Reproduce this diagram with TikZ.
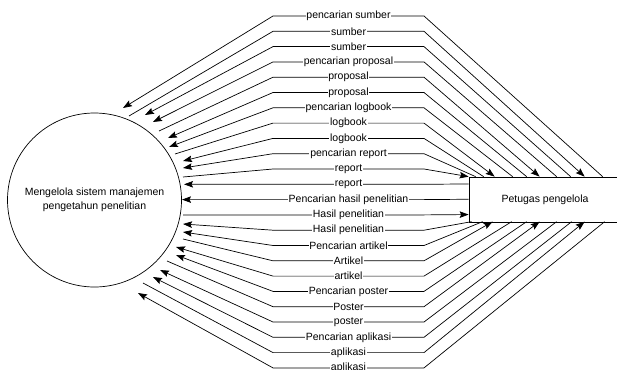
\documentclass[tikz,border=0pt]{standalone}
\usepackage{fontspec}
\setmainfont{Liberation Sans}
\usetikzlibrary{arrows.meta,calc}

\begin{document}
\begin{tikzpicture}[x=1pt,y=-1pt,
    >={Stealth[length=9pt,width=6.5pt,inset=1.5pt]},
    flow/.style={line width=0.7pt},
    tocirc/.style={flow,<-},
    torect/.style={flow,->},
    lbl/.style={fill=white,inner sep=0.8pt,font=\fontsize{10.5}{12}\selectfont}]
    \useasboundingbox (0,0) rectangle (617,369);

    \node[circle, draw, line width=0.7pt, minimum size=174pt, inner sep=0pt, align=center,
        font=\fontsize{10.5}{13.5}\selectfont] (proc) at (94.5,200)
        {Mengelola sistem manajemen\\pengetahun penelitian};
    \node[draw, line width=0.7pt, minimum width=152pt, minimum height=45pt,
        font=\fontsize{10.5}{12}\selectfont] (petugas) at (545,199.5) {Petugas pengelola};

    \foreach \k/\lx/\ly/\rx/\ry/\dir/\txt in {
        1/28.5/-92/134/0/tocirc/pencarian sumber,
        2/34.5/-84/116/0/torect/sumber,
        3/50.5/-85/102/0/tocirc/sumber,
        4/58.5/-78/88/0/tocirc/pencarian proposal,
        5/64.5/-69/71/0/torect/proposal,
        6/73.5/-62/58/0/tocirc/proposal,
        7/74.5/-53/44/0/tocirc/pencarian logbook,
        8/80.5/-46/26/0/torect/logbook,
        9/88.5/-39/15/0/tocirc/logbook,
        10/88.5/-32/7/0/tocirc/pencarian report,
        11/88.5/-23/0/0/torect/report,
        12/89.5/-15.7/0/7.3/tocirc/report,
        13/87.5/-0.4/0/22.6/tocirc/Pencarian hasil penelitian,
        14/88.5/15/0/37.9/torect/Hasil penelitian,
        15/88.5/24/3/45/tocirc/Hasil penelitian,
        16/88.5/32/14/45/tocirc/Pencarian artikel,
        17/88.5/39/24/45/torect/Artikel,
        18/81.5/47/43/45/tocirc/artikel,
        19/81.5/55/58/45/tocirc/Pencarian poster,
        20/72.5/61/71/45/torect/Poster,
        21/65.5/70/88/45/tocirc/poster,
        22/58.5/77/103/45/tocirc/Pencarian aplikasi,
        23/48.5/83/116/45/torect/aplikasi,
        24/43.5/93/136/45/tocirc/aplikasi}
    {
        \pgfmathsetmacro\y{0.7+15.3*\k}
        \coordinate (l\k) at ($(proc.center)+(\lx,\ly)$);
        \coordinate (r\k) at ($(petugas.north west)+(\rx,\ry)$);
        \draw[\dir] (l\k) -- (273,\y) -- node[lbl] {\txt} (424,\y) -- (r\k);
    }
\end{tikzpicture}
\end{document}
